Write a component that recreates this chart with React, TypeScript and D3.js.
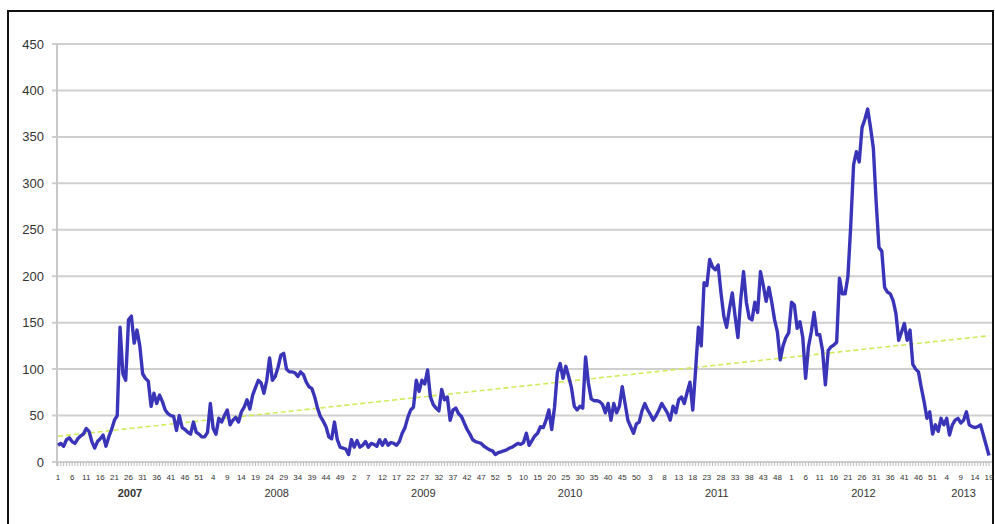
import React from 'react';
import * as d3 from 'd3';

// weekly values, one array per year (week 1 first)
const y2007 = [18, 20, 17, 24, 26, 22, 20, 25, 28, 30, 36, 33, 22, 15, 22, 25, 29, 17, 27, 35, 45, 50, 145, 95, 88, 153, 157, 128, 142, 125, 95, 90, 87, 60, 74, 63, 72, 65, 56, 52, 50, 49, 34, 50, 37, 35, 32, 30, 43, 32, 30, 27];
const y2008 = [27, 32, 63, 36, 30, 47, 43, 50, 56, 40, 45, 48, 43, 54, 59, 67, 57, 72, 80, 88, 85, 74, 88, 112, 88, 92, 102, 115, 117, 100, 97, 97, 96, 92, 97, 94, 86, 81, 79, 70, 58, 49, 44, 38, 27, 25, 43, 24, 16, 15, 14, 8];
const y2009 = [24, 16, 23, 16, 18, 22, 16, 20, 19, 17, 24, 18, 24, 18, 21, 20, 18, 22, 31, 37, 48, 56, 59, 88, 76, 88, 84, 99, 70, 62, 58, 55, 78, 67, 70, 45, 56, 58, 52, 49, 42, 35, 30, 24, 22, 21, 20, 17, 15, 13, 12, 8];
const y2010 = [10, 11, 12, 13, 15, 16, 18, 20, 19, 21, 31, 18, 23, 28, 31, 38, 37, 45, 56, 35, 59, 96, 106, 90, 103, 92, 80, 60, 56, 60, 58, 113, 85, 68, 66, 66, 65, 62, 53, 63, 45, 63, 53, 60, 81, 63, 45, 38, 31, 41, 43, 55];
const y2011 = [63, 56, 51, 45, 50, 56, 63, 58, 53, 45, 60, 53, 67, 70, 63, 75, 86, 56, 99, 145, 125, 193, 190, 218, 210, 207, 212, 182, 157, 145, 165, 182, 157, 134, 175, 205, 172, 155, 153, 172, 161, 205, 190, 173, 188, 172, 153, 140, 110, 125, 134, 139];
const y2012 = [172, 169, 144, 151, 134, 90, 124, 140, 161, 137, 137, 120, 83, 120, 124, 126, 129, 198, 181, 181, 200, 255, 320, 334, 323, 360, 369, 380, 360, 338, 280, 231, 227, 188, 183, 181, 174, 160, 131, 140, 149, 131, 142, 105, 100, 97, 80, 65, 47, 54, 30, 40];
const y2013 = [33, 47, 40, 47, 29, 40, 45, 47, 42, 45, 54, 40, 38, 37, 38, 40, 29, 18, 7];

const years = ['2007', '2008', '2009', '2010', '2011', '2012', '2013'];
const yearValues = [y2007, y2008, y2009, y2010, y2011, y2012, y2013];
const yTicks = [0, 50, 100, 150, 200, 250, 300, 350, 400, 450];

const W = 995;
const H = 524;

export default function App() {
  // flatten into one weekly series
  const points: { i: number; week: number; year: number; v: number }[] = [];
  yearValues.forEach((vals, yi) => {
    vals.forEach((v, wi) => points.push({ i: points.length, week: wi + 1, year: yi, v }));
  });
  const n = points.length;

  const x = d3.scaleLinear().domain([0, n - 1]).range([58, 989]);
  const y = d3.scaleLinear().domain([0, 450]).range([462, 44]);

  const line = d3.line<{ i: number; v: number }>()
    .x(d => x(d.i))
    .y(d => y(d.v));

  // linear trend (least squares)
  const mx = d3.mean(points, d => d.i) as number;
  const my = d3.mean(points, d => d.v) as number;
  const slope = d3.sum(points, d => (d.i - mx) * (d.v - my)) / d3.sum(points, d => (d.i - mx) ** 2);
  const icpt = my - slope * mx;
  const trend = [
    { i: 0, v: icpt },
    { i: n - 1, v: icpt + slope * (n - 1) },
  ];

  // year groups for the second label row
  let start = 0;
  const groups = yearValues.map((vals, yi) => {
    const g = { name: years[yi], from: start, to: start + vals.length - 1 };
    start += vals.length;
    return g;
  });

  const font = '"Liberation Sans", Arial, sans-serif';

  return (
    <svg width={W} height={H} style={{ position: 'absolute', left: 0, top: 0, display: 'block', background: '#fff' }}>
      <rect x={8} y={11} width={985} height={520} fill="#fff" stroke="#111" strokeWidth={2} />

      {/* gridlines + y labels */}
      {yTicks.map(t => (
        <g key={t}>
          <line x1={52} x2={992} y1={y(t)} y2={y(t)} stroke="#cfcfcf" strokeWidth={2} />
          <text x={44} y={y(t)} dy="0.35em" textAnchor="end" fontFamily={font} fontSize={13} fill="#333">{t}</text>
        </g>
      ))}
      <line x1={57} x2={57} y1={y(450)} y2={y(0) + 4} stroke="#c8c8c8" strokeWidth={2} />

      {/* category ticks */}
      {points.map(p => (
        <line key={p.i} x1={x(p.i)} x2={x(p.i)} y1={y(0)} y2={y(0) + 4} stroke="#bbb" strokeWidth={1} />
      ))}
      {points.filter(p => p.i % 5 === 0).map(p => (
        <text key={p.i} x={x(p.i)} y={480} textAnchor="middle" fontFamily={font} fontSize={8} fill="#333">{p.week}</text>
      ))}
      {groups.map((g, k) => (
        <text key={g.name} x={(x(g.from) + x(g.to)) / 2} y={497} textAnchor="middle" fontFamily={font}
          fontSize={11} fontWeight={k === 0 ? 'bold' : 'normal'} fill="#333">{g.name}</text>
      ))}

      <path d={line(trend) || ''} fill="none" stroke="#cdec5c" strokeWidth={1.6} strokeDasharray="5,3" />
      <path d={line(points) || ''} fill="none" stroke="#3a35b8" strokeWidth={3.4} strokeLinejoin="round" />
    </svg>
  );
}
